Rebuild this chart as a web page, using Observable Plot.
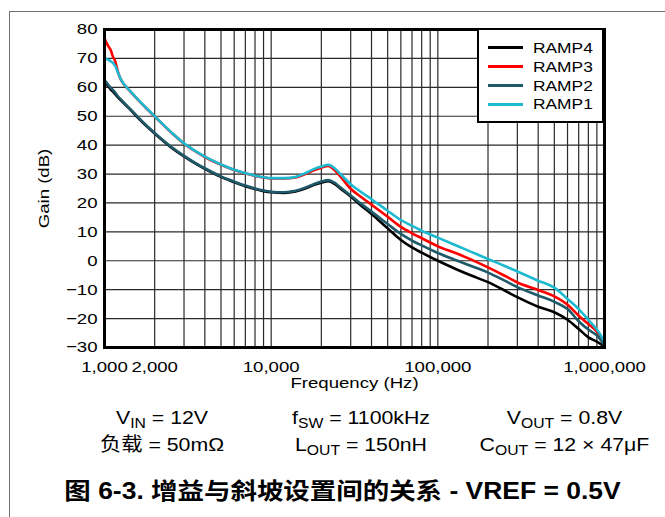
<!DOCTYPE html>
<html><head><meta charset="utf-8">
<script src="https://cdn.jsdelivr.net/npm/d3@7"></script>
<script src="https://cdn.jsdelivr.net/npm/@observablehq/plot@0.6"></script>
<style>
html,body{margin:0;padding:0;background:#fff;}
#wrap{position:relative;width:665px;height:517px;overflow:hidden;font-family:"Liberation Sans",Arial,"Noto Sans CJK SC",sans-serif;}
#box{position:absolute;left:9px;top:11px;width:700px;height:600px;border-left:1px solid #707070;border-top:1px solid #707070;}
#chart{position:absolute;left:0;top:0;}
#legend{position:absolute;left:477px;top:28px;width:127px;height:95px;box-sizing:border-box;background:#fff;border:2px solid #000;}
#legend .sw{position:absolute;left:9px;width:35px;height:2.6px;}
#legend .lb{position:absolute;left:54px;height:18px;line-height:18px;font-size:15.5px;white-space:nowrap;transform:scaleX(1.12);transform-origin:left center;color:#000;}
#notes{position:absolute;left:0;top:0;pointer-events:none;}
</style></head>
<body>
<div id="wrap">
  <div id="box"></div>
  <div id="chart"></div>
  <div id="legend"></div>
</div>
<script>
// ---- data ----
const freq = [1000,1030,1060,1090,1120,1160,1200,1250,1300,1400,1600,1800,2000,2500,3000,3500,4000,5000,6000,7000,8000,9000,10000,12000,14000,16000,18000,20000,22000,24000,26000,30000,35000,40000,50000,60000,70000,80000,100000,130000,160000,200000,250000,300000,400000,500000,600000,700000,800000,900000,1000000];
const ramp1 = [70.0,69.8,69.4,69.0,68.5,67.4,65.3,62.9,61.3,59.2,55.6,52.6,50.0,44.6,40.6,38.0,36.0,33.3,31.5,30.3,29.4,28.9,28.6,28.6,29.0,30.3,31.7,32.6,33.2,32.0,30.0,26.5,23.6,21.3,17.3,14.1,12.1,10.4,8.0,5.2,3.0,0.6,-1.7,-3.7,-6.9,-9.3,-13.2,-16.7,-20.4,-23.8,-28.0];
const ramp3 = [77.0,75.3,74.0,72.9,70.8,69.0,65.6,62.8,61.2,59.1,55.5,52.5,49.9,44.5,40.5,37.9,35.9,33.2,31.4,30.2,29.3,28.8,28.5,28.5,28.8,30.0,31.3,32.2,32.8,31.4,29.2,24.9,21.9,19.4,15.2,11.7,9.5,7.8,5.0,2.5,0.3,-2.3,-5.1,-7.5,-10.1,-12.3,-15.2,-19.0,-21.9,-24.5,-28.5];
const ramp2 = [62.5,61.6,60.7,59.9,59.2,58.2,57.0,55.9,54.9,53.0,49.5,46.6,44.2,39.5,36.3,33.9,32.0,29.2,27.4,26.0,25.0,24.3,23.9,23.7,24.2,25.3,26.5,27.4,27.9,27.0,25.4,22.6,19.5,17.0,12.7,9.3,7.0,5.3,2.7,0.1,-1.9,-4.1,-6.8,-9.1,-12.0,-14.2,-16.7,-20.9,-23.8,-25.8,-29.2];
const ramp4 = [62.0,61.0,60.2,59.2,58.6,57.6,56.6,55.6,54.6,52.8,49.3,46.4,44.0,39.3,36.1,33.7,31.8,29.0,27.2,25.8,24.8,24.1,23.7,23.5,24.0,25.0,26.2,27.0,27.5,26.6,25.0,22.2,18.9,16.2,11.2,7.2,4.6,2.8,0.0,-3.0,-5.2,-7.4,-10.2,-12.6,-15.9,-17.8,-20.4,-23.6,-26.5,-28.0,-29.7];
const seriesNames = ["RAMP4","RAMP3","RAMP2","RAMP1"];
const seriesColors = ["#000000","#ff0000","#1f5a6b","#1cbad0"];
const xTicks = [1000,2000,10000,100000,1000000];
const yTicks = [-30,-20,-10,0,10,20,30,40,50,60,70,80];
const xLabel = "Frequency (Hz)";
const yLabel = "Gain (dB)";
const notesRow1 = [["V","IN"," = 12V"],["f","SW"," = 1100kHz"],["V","OUT"," = 0.8V"]];
const notesRow2 = [["负载 = 50mΩ","",""],["L","OUT"," = 150nH"],["C","OUT"," = 12 × 47μF"]];
const titleText = "图 6-3. 增益与斜坡设置间的关系 - VREF = 0.5V";

// ---- build ----
const rows = [];
[ramp4, ramp3, ramp2, ramp1].forEach((arr, si) =>
  arr.forEach((v, i) => rows.push({f: freq[i], g: v, s: seriesNames[si]})));
const gridF = [];
for (const d of [1e3, 1e4, 1e5]) for (let k = 1; k < 10; k++) gridF.push(d * k);
gridF.push(1e6);

const chart = Plot.plot({
  width: 665, height: 400,
  marginLeft: 104, marginRight: 61, marginTop: 29, marginBottom: 53,
  style: {fontFamily: "Liberation Sans, Arial, sans-serif", fontSize: "15.5px", color: "#000", background: "transparent", overflow: "visible"},
  x: {type: "log", domain: [1000, 1e6], ticks: xTicks, tickFormat: ",", tickSize: 0, tickPadding: 13, label: null},
  y: {domain: [-30, 80], ticks: yTicks, tickSize: 0, tickPadding: 7, label: null},
  color: {domain: seriesNames, range: seriesColors},
  marks: [
    Plot.ruleX(gridF, {stroke: "#2a2a2a", strokeWidth: 1.2}),
    Plot.ruleY(yTicks, {stroke: "#2a2a2a", strokeWidth: 1.2}),
    Plot.line(rows, {x: "f", y: "g", z: "s", stroke: "s", strokeWidth: 2.6, curve: "monotone-x"}),
    Plot.frame({stroke: "#000", strokeWidth: 3}),
    Plot.text([yLabel], {text: d => d, frameAnchor: "left", dx: -60, rotate: -90, textAnchor: "middle", lineAnchor: "middle", fontSize: 15.5}),
    Plot.text([xLabel], {text: d => d, frameAnchor: "bottom", dy: 36, textAnchor: "middle", lineAnchor: "middle", fontSize: 15.5})
  ]
});
document.getElementById("chart").appendChild(chart);

// widen glyphs (reference lettering is horizontally stretched) without moving anchors
function widen(root, factor) {
  root.querySelectorAll("text").forEach(t => {
    const len = t.getComputedTextLength();
    if (len > 0) {
      t.setAttribute("textLength", (len * factor).toFixed(2));
      t.setAttribute("lengthAdjust", "spacingAndGlyphs");
    }
  });
}
widen(chart, 1.2);

// legend
const legend = document.getElementById("legend");
const legendCenters = [17.7, 36.7, 55.7, 74.3];
seriesNames.forEach((n, i) => {
  const sw = document.createElement("div");
  sw.className = "sw";
  sw.style.top = (legendCenters[i] - 1.3) + "px";
  sw.style.background = seriesColors[i];
  legend.appendChild(sw);
  const lb = document.createElement("div");
  lb.className = "lb";
  lb.style.top = (legendCenters[i] - 8.9) + "px";
  lb.textContent = n;
  legend.appendChild(lb);
});

// notes & title
const notes = d3.create("svg").attr("id", "notes").attr("width", 665).attr("height", 517);
const widenList = [];
function addNote(cx, by, parts, size, factor, weight) {
  const t = notes.append("text")
    .attr("x", cx).attr("y", by)
    .attr("text-anchor", "middle")
    .attr("font-size", size)
    .attr("font-weight", weight || "normal")
    .attr("font-family", "Liberation Sans, Arial, Noto Sans CJK SC, sans-serif")
    .attr("fill", "#000");
  const [main, sub, rest] = parts;
  t.append("tspan").text(main);
  if (sub) t.append("tspan").attr("font-size", size * 0.74).attr("dy", 4).text(sub);
  if (rest) t.append("tspan").attr("dy", sub ? -4 : 0).text(rest);
  widenList.push([t.node(), factor]);
}
const noteX = [162, 361, 564.5];
notesRow1.forEach((p, i) => addNote(noteX[i], 424, p, 19, 1.12));
notesRow2.forEach((p, i) => addNote(noteX[i], 451, p, 19, 1.12));
addNote(342.5, 498.5, [titleText, "", ""], 23, 1.15, "bold");
document.getElementById("wrap").appendChild(notes.node());
widenList.forEach(([node, f]) => {
  const len = node.getComputedTextLength();
  node.setAttribute("textLength", (len * f).toFixed(2));
  node.setAttribute("lengthAdjust", "spacingAndGlyphs");
});
</script>
</body></html>
